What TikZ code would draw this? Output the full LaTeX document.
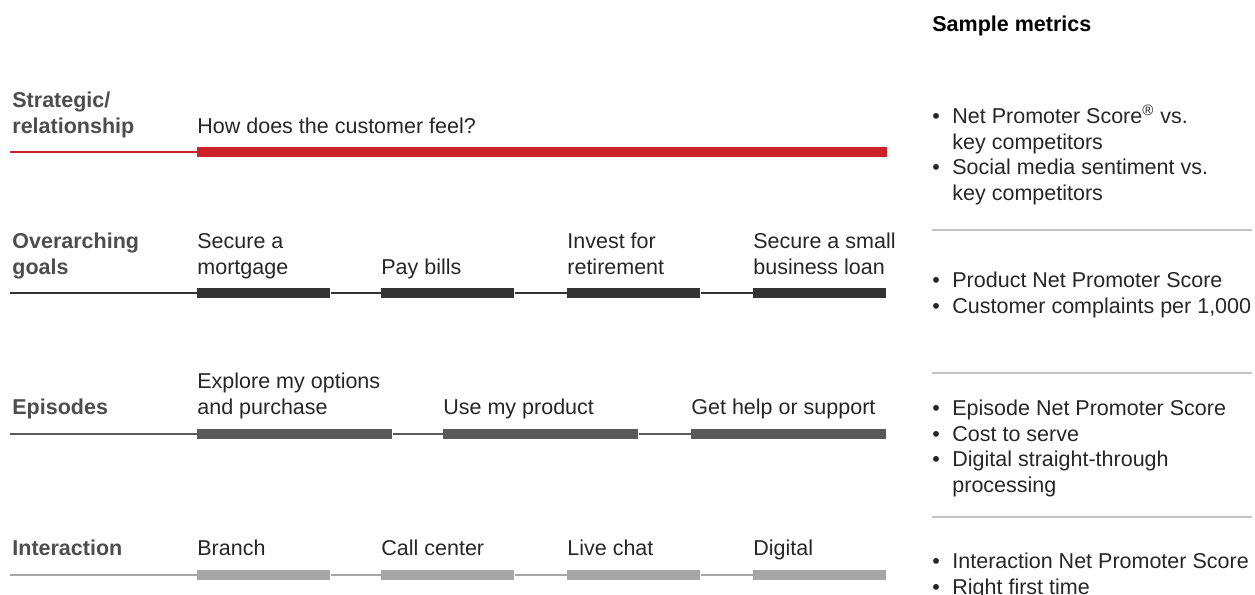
\documentclass[tikz,border=0pt]{standalone}
\usepackage{fontspec}
\setmainfont{Liberation Sans}
\usetikzlibrary{calc}
\usetikzlibrary{positioning}
\definecolor{stratred}{HTML}{CC2229}
\definecolor{goalgray}{HTML}{333333}
\definecolor{episodegray}{HTML}{595959}
\definecolor{interactgray}{HTML}{A6A6A6}
\definecolor{labelgray}{HTML}{4D4D4D}
\definecolor{textgray}{HTML}{262626}
\definecolor{rulegray}{HTML}{C4C4C4}
\newcommand{\basefont}{\fontsize{10.75pt}{12.75pt}\selectfont}
\newcommand{\bul}{\makebox[10pt][l]{\textbullet}}
\newcommand{\ind}{\hspace*{10pt}}
% base anchor of a multi-line node sits on its last line
\tikzstyle{rowlabel} = [anchor=base west, inner sep=0, align=left, font=\basefont\bfseries, text=labelgray]
\tikzstyle{steplabel} = [anchor=base west, inner sep=0, align=left, font=\basefont, text=textgray]
\tikzstyle{metric} = [anchor=base west, inner sep=0, align=left, font=\basefont, text=textgray]
\tikzstyle{barnode} = [anchor=west, inner sep=0, minimum height=5pt]
\tikzstyle{shortbar} = [barnode, minimum width=66.5pt]
\tikzstyle{midbar} = [barnode, minimum width=97.5pt]
\tikzstyle{thin} = [line width=0.8pt]

\begin{document}
\begin{tikzpicture}[x=0.5pt, y=-0.5pt]
    \useasboundingbox (0,0) rectangle (1255,595);

    % strategic / relationship
    \node[rowlabel] (strat_label) at (12,133) {Strategic/\\relationship};
    \coordinate (strat_start) at (10,152);
    \node[barnode, minimum width=345pt, fill=stratred] (strat_bar) at (197,152) {};
    \node[steplabel] (strat_text) at (197,133) {How does the customer feel?};
    \draw[thin, stratred] (strat_start) -- (strat_bar.west);

    % overarching goals
    \node[rowlabel] (goal_label) at (12,274) {Overarching\\goals};
    \coordinate (goal_start) at (10,293);
    \node[shortbar, fill=goalgray] (goal_a) at (197,293) {};
    \node[shortbar, fill=goalgray] (goal_b) at (381,293) {};
    \node[shortbar, fill=goalgray] (goal_c) at (567,293) {};
    \node[shortbar, fill=goalgray] (goal_d) at (753,293) {};
    \node[steplabel] (goal_a_text) at (197,274) {Secure a\\mortgage};
    \node[steplabel] (goal_b_text) at (381,274) {Pay bills};
    \node[steplabel] (goal_c_text) at (567,274) {Invest for\\retirement};
    \node[steplabel] (goal_d_text) at (753,274) {Secure a small\\business loan};
    \draw[thin, goalgray] (goal_start) -- (goal_a.west);
    \draw[thin, goalgray] (goal_a.east) -- (goal_b.west);
    \draw[thin, goalgray] (goal_b.east) -- (goal_c.west);
    \draw[thin, goalgray] (goal_c.east) -- (goal_d.west);

    % episodes
    \node[rowlabel] (epi_label) at (12,414) {Episodes};
    \coordinate (epi_start) at (10,434);
    \node[midbar, fill=episodegray] (epi_a) at (197,434) {};
    \node[midbar, fill=episodegray] (epi_b) at (443,434) {};
    \node[midbar, fill=episodegray] (epi_c) at (691,434) {};
    \node[steplabel] (epi_a_text) at (197,414) {Explore my options\\and purchase};
    \node[steplabel] (epi_b_text) at (443,414) {Use my product};
    \node[steplabel] (epi_c_text) at (691,414) {Get help or support};
    \draw[thin, episodegray] (epi_start) -- (epi_a.west);
    \draw[thin, episodegray] (epi_a.east) -- (epi_b.west);
    \draw[thin, episodegray] (epi_b.east) -- (epi_c.west);

    % interaction
    \node[rowlabel] (int_label) at (12,555) {Interaction};
    \coordinate (int_start) at (10,575);
    \node[shortbar, fill=interactgray] (int_a) at (197,575) {};
    \node[shortbar, fill=interactgray] (int_b) at (381,575) {};
    \node[shortbar, fill=interactgray] (int_c) at (567,575) {};
    \node[shortbar, fill=interactgray] (int_d) at (753,575) {};
    \node[steplabel] (int_a_text) at (197,555) {Branch};
    \node[steplabel] (int_b_text) at (381,555) {Call center};
    \node[steplabel] (int_c_text) at (567,555) {Live chat};
    \node[steplabel] (int_d_text) at (753,555) {Digital};
    \draw[thin, interactgray] (int_start) -- (int_a.west);
    \draw[thin, interactgray] (int_a.east) -- (int_b.west);
    \draw[thin, interactgray] (int_b.east) -- (int_c.west);
    \draw[thin, interactgray] (int_c.east) -- (int_d.west);

    % metrics column
    \node[metric, font=\basefont\bfseries, text=black] (metric_head) at (932,31) {Sample metrics};
    \node[metric] (metric_strat) at (932,200) {\bul Net Promoter Score\textsuperscript{\textregistered} vs.\\\ind key competitors\\\bul Social media sentiment vs.\\\ind key competitors};
    \node[metric] (metric_goal) at (932,313) {\bul Product Net Promoter Score\\\bul Customer complaints per 1,000};
    \node[metric] (metric_epi) at (932,492) {\bul Episode Net Promoter Score\\\bul Cost to serve\\\bul Digital straight-through\\\ind processing};
    \node[metric] (metric_int) at (932,594) {\bul Interaction Net Promoter Score\\\bul Right first time};
    \coordinate (rule_a) at (932,230);
    \coordinate (rule_b) at (932,373);
    \coordinate (rule_c) at (932,517);
    \draw[thin, rulegray] (rule_a) -- ++(320,0);
    \draw[thin, rulegray] (rule_b) -- ++(320,0);
    \draw[thin, rulegray] (rule_c) -- ++(320,0);
\end{tikzpicture}
\end{document}
